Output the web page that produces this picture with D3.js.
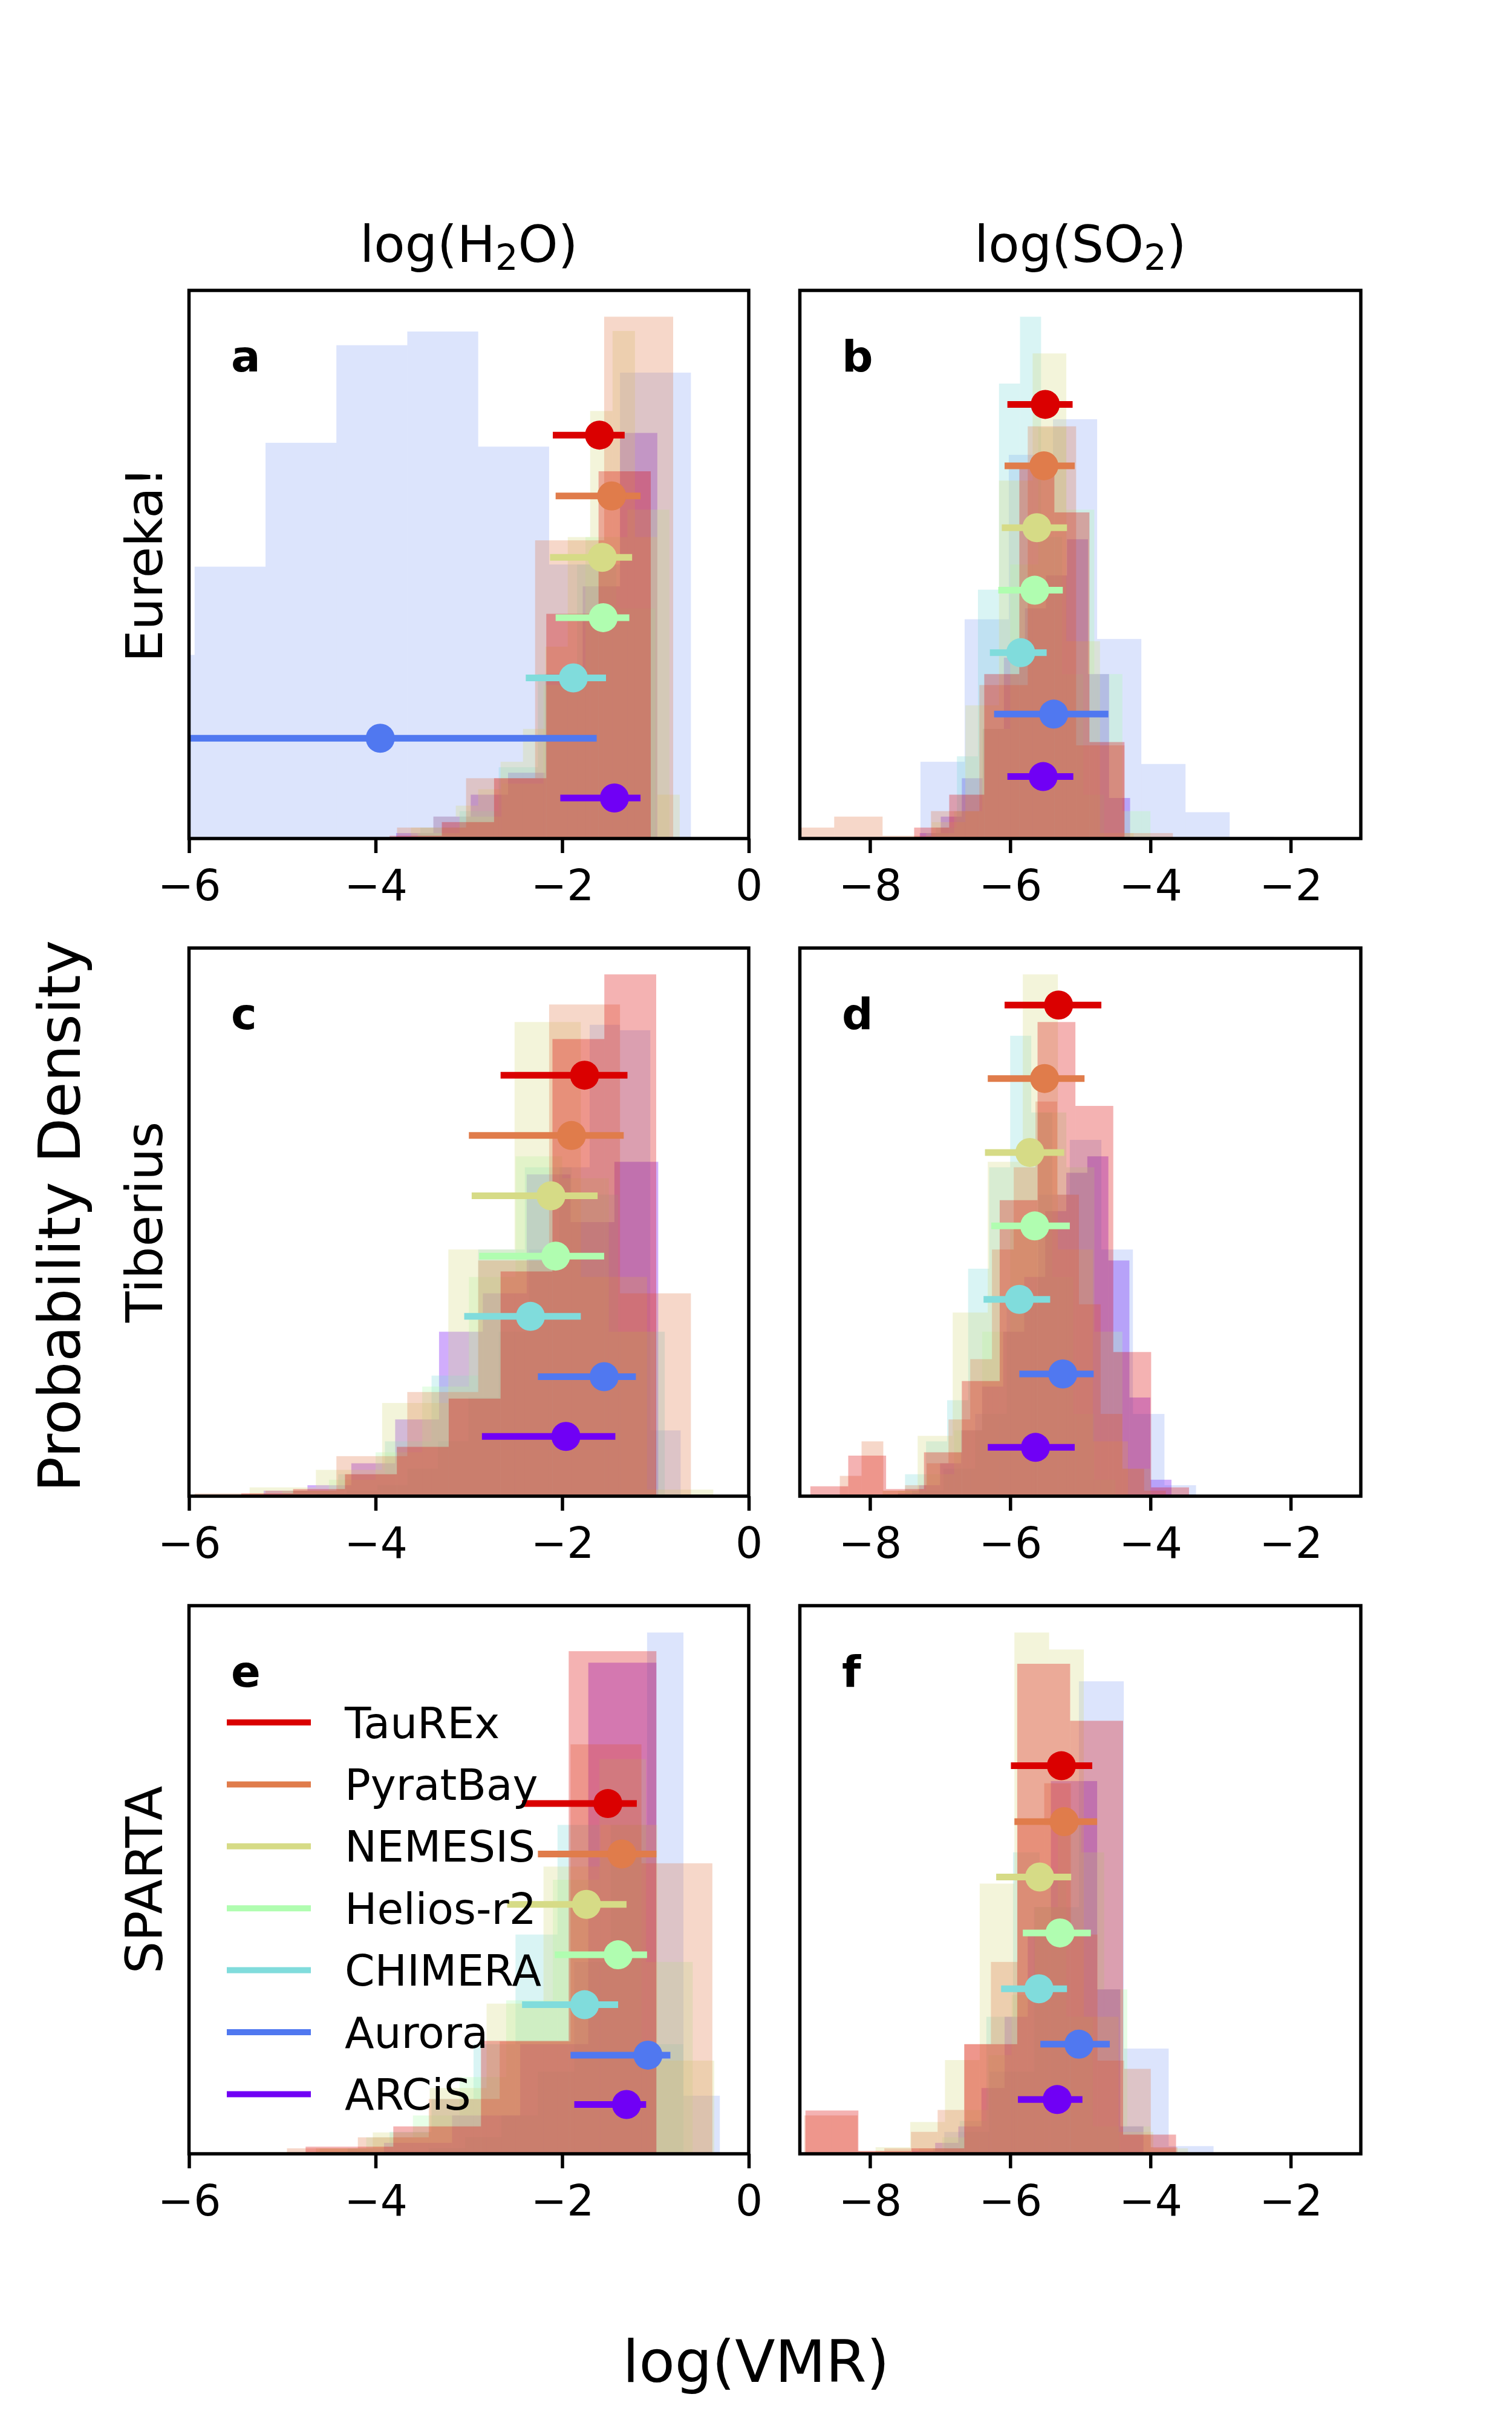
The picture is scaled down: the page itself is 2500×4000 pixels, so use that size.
<!DOCTYPE html>
<html><head><meta charset="utf-8">
<script src="https://cdn.jsdelivr.net/npm/d3@7"></script>
<style>
body{margin:0;background:#fff}
svg{display:block}
text{font-family:"DejaVu Sans",sans-serif;fill:#000}
</style>
</head><body>
<svg id="chart" width="2500" height="4000"></svg>
<script>
// ---------- categories ----------
const codes = ["TauREx","PyratBay","NEMESIS","Helios-r2","CHIMERA","Aurora","ARCiS"];
const codeColors = ["#da0000","#e07c4b","#d6db86","#b0fdb0","#80dcdc","#5078f0","#7000f5"];
const histOpacity = [0.3,0.3,0.3,0.3,0.3,0.2,0.32];
const rowLabels = ["Eureka!","Tiberius","SPARTA"];
const h2oTicks = [-6,-4,-2,0];
const so2Ticks = [-8,-6,-4,-2];
const h2oDomain = [-6,0];
const so2Domain = [-9,-1];

// ---------- panel a (Eureka!, H2O) ----------
const histStartA = [-3.85,-3.77,-3.62,-3.55,-3.52,-6.70,-3.78];
const histWidthA = [0.56,0.74,0.24,0.45,0.42,0.76,0.40];
const histHeightsA = [
  [0.005,0.03,0.11,0.41,0.67],
  [0.02,0.11,0.544,0.952],
  [0.02,0.04,0.06,0.09,0.14,0.2,0.35,0.55,0.78,0.926,0.55,0.08],
  [0.01,0.04,0.1,0.28,0.55,0.6],
  [0.02,0.05,0.13,0.3,0.5,0.42],
  [0.335,0.496,0.722,0.90,0.925,0.715,0.5,0.85],
  [0.01,0.04,0.08,0.12,0.3,0.46,0.74]
];
const medA = [-1.60,-1.47,-1.57,-1.56,-1.88,-3.95,-1.44];
const loA  = [-2.10,-2.07,-2.13,-2.07,-2.39,-6.60,-2.02];
const hiA  = [-1.33,-1.16,-1.25,-1.28,-1.53,-1.63,-1.16];
const levelA = [0.736,0.625,0.513,0.403,0.293,0.183,0.074];

// ---------- panel b (Eureka!, SO2) ----------
const histStartB = [-7.37,-9.20,-7.12,-7.20,-7.06,-7.28,-7.29];
const histWidthB = [0.5,0.69,0.48,0.4,0.30,0.63,0.30];
const histHeightsB = [
  [0.02,0.08,0.3,0.68,0.595,0.176],
  [0.02,0.04,0.005,0.05,0.28,0.752,0.17,0.01],
  [0.03,0.243,0.653,0.885,0.36,0.01],
  [0.01,0.05,0.2,0.5,0.75,0.6,0.3,0.05],
  [0.02,0.15,0.454,0.83,0.952,0.55,0.3,0.08],
  [0.14,0.40,0.7,0.765,0.364,0.136,0.048,0.003],
  [0.01,0.04,0.11,0.2,0.33,0.42,0.48,0.546,0.3,0.074]
];
const medB = [-5.50,-5.52,-5.62,-5.65,-5.85,-5.38,-5.53];
const loB  = [-6.04,-6.08,-6.12,-6.17,-6.29,-6.23,-6.04];
const hiB  = [-5.11,-5.08,-5.19,-5.25,-5.48,-4.60,-5.10];
const levelB = [0.792,0.680,0.567,0.453,0.339,0.227,0.113];

// ---------- panel c (Tiberius, H2O) ----------
const histStartC = [-5.44,-5.94,-5.35,-5.0,-4.9,-4.63,-5.2];
const histWidthC = [0.556,0.76,0.71,0.5,0.5,0.325,0.47];
const histHeightsC = [
  [0.005,0.013,0.04,0.09,0.178,0.41,0.834,0.952],
  [0.005,0.01,0.073,0.19,0.43,0.897,0.37],
  [0.016,0.048,0.17,0.45,0.865,0.4,0.012],
  [0.01,0.03,0.08,0.2,0.4,0.62,0.58,0.3],
  [0.01,0.04,0.1,0.22,0.45,0.6,0.55,0.3],
  [0.005,0.01,0.02,0.05,0.1,0.18,0.3,0.45,0.6,0.86,0.85,0.12],
  [0.01,0.02,0.06,0.14,0.3,0.37,0.587,0.5,0.61]
];
const medC = [-1.76,-1.90,-2.12,-2.07,-2.34,-1.55,-1.96];
const loC  = [-2.66,-3.00,-2.97,-2.89,-3.05,-2.26,-2.86];
const hiC  = [-1.30,-1.34,-1.62,-1.55,-1.80,-1.21,-1.43];
const levelC = [0.768,0.658,0.548,0.438,0.328,0.218,0.109];

// ---------- panel d (Tiberius, SO2) ----------
const histStartD = [-8.85,-8.43,-7.82,-7.6,-7.5,-7.4,-7.6];
const histWidthD = [0.54,0.31,0.5,0.4,0.3,0.45,0.3];
const histHeightsD = [
  [0.018,0.074,0.013,0.08,0.21,0.54,0.865,0.712,0.263,0.016],
  [0.037,0.10,0.01,0.02,0.06,0.14,0.25,0.45,0.6,0.72,0.55,0.35,0.15,0.05,0.01],
  [0.01,0.11,0.335,0.61,0.952,0.45,0.1],
  [0.01,0.04,0.12,0.3,0.5,0.7,0.6,0.3,0.05],
  [0.04,0.1,0.175,0.415,0.6,0.84,0.7,0.4,0.15,0.03],
  [0.01,0.05,0.15,0.35,0.55,0.65,0.45,0.15,0.02],
  [0.005,0.02,0.06,0.12,0.2,0.3,0.4,0.52,0.59,0.62,0.43,0.18,0.03]
];
const medD = [-5.31,-5.51,-5.72,-5.65,-5.87,-5.25,-5.64];
const loD  = [-6.08,-6.32,-6.36,-6.27,-6.38,-5.87,-6.32];
const hiD  = [-4.70,-4.94,-5.23,-5.15,-5.43,-4.81,-5.08];
const levelD = [0.896,0.762,0.627,0.493,0.359,0.223,0.089];

// ---------- panel e (SPARTA, H2O) ----------
const histStartE = [-4.75,-4.95,-5.25,-4.6,-4.3,-3.43,-3.91];
const histWidthE = [0.94,0.76,0.61,0.5,0.45,0.39,0.73];
const histHeightsE = [
  [0.013,0.05,0.206,0.917],
  [0.01,0.03,0.1,0.205,0.747,0.53],
  [0.003,0.01,0.039,0.12,0.274,0.524,0.6,0.17],
  [0.01,0.03,0.07,0.14,0.28,0.5,0.72,0.35],
  [0.01,0.04,0.1,0.2,0.4,0.6,0.55,0.2],
  [0.01,0.03,0.07,0.15,0.35,0.6,0.951,0.106],
  [0.02,0.07,0.2,0.896]
];
const medE = [-1.51,-1.36,-1.74,-1.40,-1.76,-1.08,-1.31];
const loE  = [-2.43,-2.26,-2.59,-2.08,-2.43,-1.91,-1.87];
const hiE  = [-1.20,-0.99,-1.31,-1.09,-1.40,-0.84,-1.10];
const levelE = [0.639,0.547,0.455,0.363,0.272,0.180,0.090];

// ---------- panel f (SPARTA, SO2) ----------
const histStartF = [-8.92,-8.935,-7.92,-7.3,-7.1,-6.94,-7.40];
const histWidthF = [0.755,0.38,0.495,0.33,0.38,0.64,0.33];
const histHeightsF = [
  [0.079,0.005,0.01,0.2,0.894,0.79,0.035],
  [0.07,0.07,0.005,0.01,0.04,0.08,0.2,0.35,0.6,0.676,0.4,0.17,0.155,0.012],
  [0.012,0.058,0.171,0.493,0.951,0.92,0.25,0.04,0.01],
  [0.01,0.03,0.08,0.18,0.29,0.45,0.6,0.55,0.3,0.05],
  [0.01,0.06,0.25,0.55,0.5,0.25,0.05],
  [0.04,0.15,0.45,0.862,0.192,0.014],
  [0.005,0.02,0.05,0.12,0.25,0.4,0.68,0.68,0.3,0.05]
];
const medF = [-5.27,-5.23,-5.58,-5.29,-5.59,-5.02,-5.33];
const loF  = [-5.99,-5.94,-6.20,-5.82,-6.13,-5.57,-5.89];
const hiF  = [-4.83,-4.76,-5.13,-4.85,-5.19,-4.58,-4.97];
const levelF = [0.708,0.606,0.505,0.403,0.301,0.200,0.099];

// ---------- layout ----------
const colX = [312.5, 1322.5];
const colW = [925.5, 927.5];
const rowY = [480, 1567, 2654];
const rowH = 906;
const SPINE = 5.5;

const panels = [
  {letter:"a",row:0,col:0,start:histStartA,width:histWidthA,heights:histHeightsA,med:medA,lo:loA,hi:hiA,level:levelA},
  {letter:"b",row:0,col:1,start:histStartB,width:histWidthB,heights:histHeightsB,med:medB,lo:loB,hi:hiB,level:levelB},
  {letter:"c",row:1,col:0,start:histStartC,width:histWidthC,heights:histHeightsC,med:medC,lo:loC,hi:hiC,level:levelC},
  {letter:"d",row:1,col:1,start:histStartD,width:histWidthD,heights:histHeightsD,med:medD,lo:loD,hi:hiD,level:levelD},
  {letter:"e",row:2,col:0,start:histStartE,width:histWidthE,heights:histHeightsE,med:medE,lo:loE,hi:hiE,level:levelE},
  {letter:"f",row:2,col:1,start:histStartF,width:histWidthF,heights:histHeightsF,med:medF,lo:loF,hi:hiF,level:levelF}
];

const svg = d3.select("#chart");
const defs = svg.append("defs");
const fmt = d => d < 0 ? "\u2212" + Math.abs(d) : String(d);

panels.forEach((p, pi) => {
  const x0 = colX[p.col], W = colW[p.col], y0 = rowY[p.row], H = rowH;
  const x = d3.scaleLinear().domain(p.col === 0 ? h2oDomain : so2Domain).range([x0, x0 + W]);
  const y = d3.scaleLinear().domain([0, 1]).range([y0 + H, y0]);
  const clipId = "clip" + pi;
  defs.append("clipPath").attr("id", clipId)
    .append("rect").attr("x", x0).attr("y", y0).attr("width", W).attr("height", H);

  const g = svg.append("g");
  const hg = g.append("g").attr("clip-path", `url(#${clipId})`);
  // histograms: drawn from last code to first
  for (let s = codes.length - 1; s >= 0; s--) {
    const bins = p.heights[s].map((h, i) => ({
      x1: p.start[s] + i * p.width[s],
      x2: p.start[s] + (i + 1) * p.width[s],
      h: h
    }));
    hg.append("g").selectAll("rect").data(bins).join("rect")
      .attr("x", d => x(d.x1))
      .attr("width", d => x(d.x2) - x(d.x1))
      .attr("y", d => y(d.h))
      .attr("height", d => y(0) - y(d.h))
      .attr("fill", codeColors[s])
      .attr("fill-opacity", histOpacity[s]);
  }
  // error bars
  const eg = g.append("g").attr("clip-path", `url(#${clipId})`);
  codes.forEach((c, s) => {
    eg.append("line")
      .attr("x1", x(p.lo[s])).attr("x2", x(p.hi[s]))
      .attr("y1", y(p.level[s])).attr("y2", y(p.level[s]))
      .attr("stroke", codeColors[s]).attr("stroke-width", 11);
    eg.append("circle")
      .attr("cx", x(p.med[s])).attr("cy", y(p.level[s])).attr("r", 24)
      .attr("fill", codeColors[s]);
  });

  // x axis
  const ax = d3.axisBottom(x)
    .tickValues(p.col === 0 ? h2oTicks : so2Ticks)
    .tickFormat(fmt).tickSize(24).tickSizeOuter(0).tickPadding(28);
  const axg = g.append("g").attr("transform", `translate(0,${y0 + H})`).call(ax);
  axg.select(".domain").remove();
  axg.selectAll(".tick line").attr("stroke", "#000").attr("stroke-width", SPINE);
  axg.selectAll(".tick text").attr("font-size", 71).attr("fill", "#000")
    .style("font-family", "DejaVu Sans");

  // frame
  g.append("rect").attr("x", x0).attr("y", y0).attr("width", W).attr("height", H)
    .attr("fill", "none").attr("stroke", "#000").attr("stroke-width", SPINE);

  // panel letter
  g.append("text").attr("x", x0 + 0.075 * W).attr("y", y0 + 134)
    .attr("font-size", 72).attr("font-weight", "bold").text(p.letter);
});

// column titles
const titleG = svg.append("g");
[0, 1].forEach(c => {
  const t = titleG.append("text").attr("x", colX[c] + colW[c] / 2).attr("y", 433)
    .attr("text-anchor", "middle").attr("font-size", 84);
  t.append("tspan").text(c === 0 ? "log(H" : "log(SO");
  t.append("tspan").attr("font-size", 59).attr("dy", 13).text("2");
  t.append("tspan").attr("dy", -13).text(c === 0 ? "O)" : ")");
});

// row labels
rowLabels.forEach((lab, r) => {
  const cy = rowY[r] + rowH / 2;
  svg.append("text").attr("transform", `translate(268,${cy}) rotate(-90)`)
    .attr("text-anchor", "middle").attr("font-size", 84).text(lab);
});

// figure labels
svg.append("text").attr("transform", "translate(132,2010) rotate(-90)")
  .attr("text-anchor", "middle").attr("font-size", 97).text("Probability Density");
svg.append("text").attr("x", 1250).attr("y", 3937)
  .attr("text-anchor", "middle").attr("font-size", 97).text("log(VMR)");

// legend in panel e
const lg = svg.append("g");
codes.forEach((c, s) => {
  const ly = 2847 + s * 102.4;
  lg.append("line").attr("x1", 375).attr("x2", 514).attr("y1", ly).attr("y2", ly)
    .attr("stroke", codeColors[s]).attr("stroke-width", 10);
  lg.append("text").attr("x", 570).attr("y", ly).attr("dy", "0.36em")
    .attr("font-size", 71).text(c);
});
</script>
</body></html>
